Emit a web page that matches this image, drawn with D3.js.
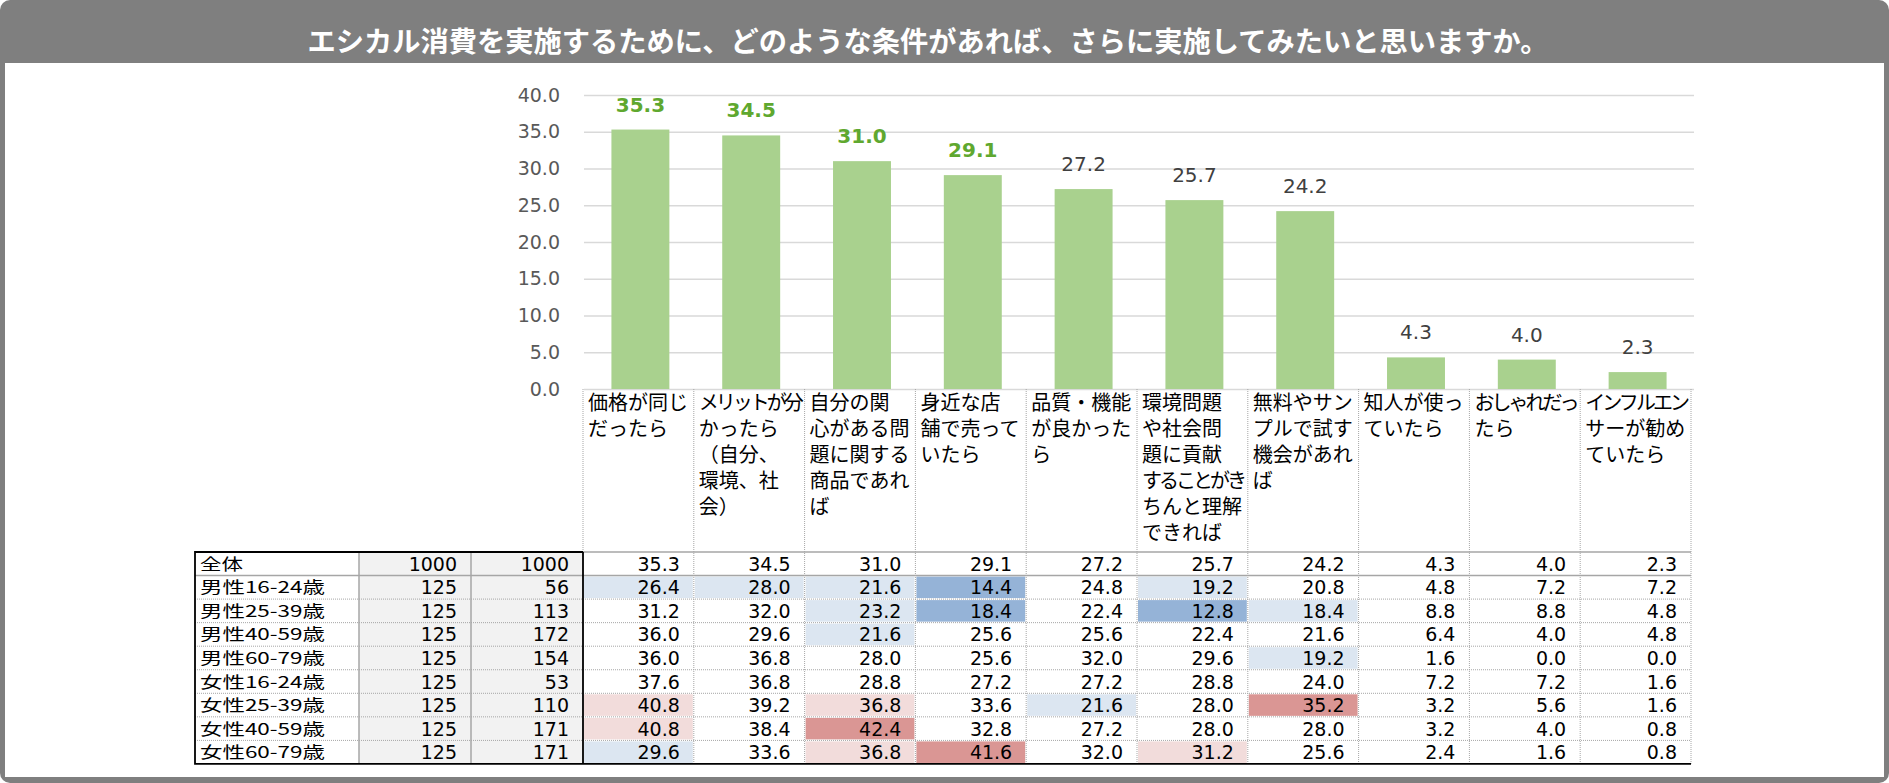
<!DOCTYPE html>
<html lang="ja">
<head>
  <meta charset="UTF-8">
  <title>エシカル消費 条件</title>
  <script src="https://d3js.org/d3.v7.min.js"></script>
  <style>
    body { margin: 0; background: #fff; }
    svg { display: block; }
    .jp { font-family: "Noto Sans CJK JP", sans-serif; }
    .num { font-family: "DejaVu Sans", Verdana, sans-serif; }
  </style>
</head>
<body>
  <svg id="chart" width="1889" height="783"></svg>

  <script>
    const title = "エシカル消費を実施するために、どのような条件があれば、さらに実施してみたいと思いますか。";

    // header text of each answer, already broken into lines like the original sheet
    const categories = [
      ["価格が同じ", "だったら"],
      ["メリットが分", "かったら", "（自分、", "環境、社", "会）"],
      ["自分の関", "心がある問", "題に関する", "商品であれ", "ば"],
      ["身近な店", "舗で売って", "いたら"],
      ["品質・機能", "が良かった", "ら"],
      ["環境問題", "や社会問", "題に貢献", "することがき", "ちんと理解", "できれば"],
      ["無料やサン", "プルで試す", "機会があれ", "ば"],
      ["知人が使っ", "ていたら"],
      ["おしゃれだっ", "たら"],
      ["インフルエン", "サーが勧め", "ていたら"]
    ];

    const overall = [35.3, 34.5, 31.0, 29.1, 27.2, 25.7, 24.2, 4.3, 4.0, 2.3];
    const topHighlight = 4;   // first N labels shown in bold green

    const yTicks = [0, 5, 10, 15, 20, 25, 30, 35, 40];

    const rowLabels = ["全体", "男性16-24歳", "男性25-39歳", "男性40-59歳", "男性60-79歳",
                       "女性16-24歳", "女性25-39歳", "女性40-59歳", "女性60-79歳"];
    const nPlanned = [1000, 125, 125, 125, 125, 125, 125, 125, 125];
    const nActual  = [1000, 56, 113, 172, 154, 53, 110, 171, 171];

    const segments = [
      overall,
      [26.4, 28.0, 21.6, 14.4, 24.8, 19.2, 20.8, 4.8, 7.2, 7.2],
      [31.2, 32.0, 23.2, 18.4, 22.4, 12.8, 18.4, 8.8, 8.8, 4.8],
      [36.0, 29.6, 21.6, 25.6, 25.6, 22.4, 21.6, 6.4, 4.0, 4.8],
      [36.0, 36.8, 28.0, 25.6, 32.0, 29.6, 19.2, 1.6, 0.0, 0.0],
      [37.6, 36.8, 28.8, 27.2, 27.2, 28.8, 24.0, 7.2, 7.2, 1.6],
      [40.8, 39.2, 36.8, 33.6, 21.6, 28.0, 35.2, 3.2, 5.6, 1.6],
      [40.8, 38.4, 42.4, 32.8, 27.2, 28.0, 28.0, 3.2, 4.0, 0.8],
      [29.6, 33.6, 36.8, 41.6, 32.0, 31.2, 25.6, 2.4, 1.6, 0.8]
    ];

    // cell shading: difference from 全体, +-5 light, +-10 strong
    function cellColor(v, base) {
      const diff = Math.round((v - base) * 10) / 10;
      if (diff >= 10) return "#da9694";
      if (diff >= 5) return "#f2dcdb";
      if (diff <= -10) return "#95b3d7";
      if (diff <= -5) return "#dce6f1";
      return null;
    }

    const svg = d3.select("#chart");
    const W = 1889, H = 783;

    // frame
    svg.append("rect").attr("width", W).attr("height", H).attr("rx", 10).attr("fill", "#7f7f7f");
    svg.append("rect").attr("x", 5).attr("y", 63).attr("width", W - 10).attr("height", 714).attr("fill", "#fff");

    svg.append("text")
      .attr("class", "jp")
      .attr("x", 928).attr("y", 40)
      .attr("text-anchor", "middle")
      .attr("dominant-baseline", "central")
      .attr("fill", "#fff")
      .attr("textLength", 1241)
      .attr("lengthAdjust", "spacingAndGlyphs")
      .style("font-size", "28px")
      .style("font-weight", "bold")
      .text(title);

    // scales
    const colLeft = 583, colRight = 1691;
    const col = d3.scaleBand().domain(d3.range(categories.length)).range([colLeft, colRight]);
    const xBar = d3.scaleBand().domain(d3.range(categories.length))
      .range([colLeft + 2, colRight + 2]).paddingInner(0.477).paddingOuter(0.2385);
    const y = d3.scaleLinear().domain([0, 40]).range([389, 95]);

    // grid + y labels
    const yAxis = d3.axisLeft(y).tickValues(yTicks).tickFormat(d3.format(".1f"))
      .tickSize(-(colRight + 2 - colLeft)).tickPadding(24);
    const ga = svg.append("g").attr("transform", `translate(${colLeft + 1},0)`).call(yAxis);
    ga.select(".domain").remove();
    ga.selectAll(".tick line").attr("stroke", "#d9d9d9").attr("stroke-width", 1.6);
    ga.selectAll(".tick text")
      .attr("class", "num")
      .attr("fill", "#595959")
      .style("font-size", "19px");

    // bars
    svg.append("g").selectAll("rect")
      .data(overall)
      .join("rect")
      .attr("x", (d, i) => xBar(i))
      .attr("y", d => y(d))
      .attr("width", xBar.bandwidth())
      .attr("height", d => y(0) - y(d))
      .attr("fill", "#a9d18e");

    svg.append("g").selectAll("text")
      .data(overall)
      .join("text")
      .attr("class", "num")
      .attr("x", (d, i) => xBar(i) + xBar.bandwidth() / 2)
      .attr("y", d => y(d) - 18)
      .attr("text-anchor", "middle")
      .attr("fill", (d, i) => i < topHighlight ? "#5fa82f" : "#404040")
      .style("font-weight", (d, i) => i < topHighlight ? "bold" : "normal")
      .style("font-size", "20px")
      .text(d => d.toFixed(1));

    // header cells under the bars
    const headTop = y(0), tableTop = 552, rowH = 23.55;
    const tableBottom = tableTop + rowH * rowLabels.length;

    const head = svg.append("g");
    categories.forEach((lines, i) => {
      const t = head.append("text")
        .attr("class", "jp")
        .attr("fill", "#000")
        .style("font-size", "20px");
      lines.forEach((ln, k) => {
        t.append("tspan")
          .attr("x", col(i) + 5)
          .attr("y", headTop + 21 + k * 26)
          .text(ln);
      });
      // long lines are set tighter so they stay inside their cell
      t.selectAll("tspan").each(function () {
        const w = this.getComputedTextLength();
        const n = this.textContent.length;
        if (w > 102) d3.select(this).style("letter-spacing", ((102 - w) / n).toFixed(2) + "px");
      });
    });

    // table columns on the left
    const labelX0 = 195, n1X0 = 359, n2X0 = 471;
    const tbl = svg.append("g");

    tbl.append("rect").attr("x", n1X0).attr("y", tableTop)
      .attr("width", colLeft - n1X0).attr("height", tableBottom - tableTop).attr("fill", "#f2f2f2");

    segments.forEach((row, r) => {
      row.forEach((v, j) => {
        const c = r === 0 ? null : cellColor(v, overall[j]);
        if (c) {
          tbl.append("rect")
            .attr("x", col(j) + 1).attr("y", tableTop + r * rowH + 1)
            .attr("width", col.bandwidth() - 2).attr("height", rowH - 2)
            .attr("fill", c);
        }
      });
    });

    // grid lines
    const dotted = "#a6a6a6";
    for (let r = 1; r < rowLabels.length; r++) {
      const yy = tableTop + r * rowH;
      tbl.append("line")
        .attr("x1", labelX0).attr("x2", colRight).attr("y1", yy).attr("y2", yy)
        .attr("stroke", dotted)
        .attr("stroke-width", r === 1 ? 1.5 : 1)
        .attr("stroke-dasharray", r === 1 ? null : "1,1");
    }
    d3.range(1, categories.length + 1).forEach(i => {
      const xx = i === categories.length ? colRight : col(i);
      tbl.append("line")
        .attr("x1", xx).attr("x2", xx).attr("y1", headTop).attr("y2", tableBottom)
        .attr("stroke", dotted).attr("stroke-dasharray", "1,1");
    });
    tbl.append("line").attr("x1", colLeft).attr("x2", colLeft).attr("y1", headTop).attr("y2", tableTop)
      .attr("stroke", dotted).attr("stroke-dasharray", "1,1");
    [n1X0, n2X0].forEach(xx => {
      tbl.append("line").attr("x1", xx).attr("x2", xx).attr("y1", tableTop).attr("y2", tableBottom)
        .attr("stroke", "#a6a6a6").attr("stroke-width", 1.5);
    });
    tbl.append("line").attr("x1", colLeft).attr("x2", colRight).attr("y1", tableTop).attr("y2", tableTop)
      .attr("stroke", "#a6a6a6").attr("stroke-width", 1.5);
    // black frame
    tbl.append("path")
      .attr("d", `M${colLeft},${tableTop}H${labelX0}V${tableBottom}H${colRight}M${colLeft},${tableTop}V${tableBottom}`)
      .attr("fill", "none").attr("stroke", "#000").attr("stroke-width", 1.8);

    // texts
    const midY = r => tableTop + r * rowH + rowH / 2 + 6;
    // row labels: small font so the line boxes fit the row, widened to the sheet's look
    const labelWidth = s => Array.from(s).reduce((w, ch) => w + (ch.charCodeAt(0) > 255 ? 21.5 : 12.1), 0);
    rowLabels.forEach((lab, r) => {
      tbl.append("text").attr("class", "jp")
        .attr("x", 200).attr("y", midY(r))
        .attr("textLength", labelWidth(lab))
        .attr("lengthAdjust", "spacingAndGlyphs")
        .style("font-size", "16.2px").attr("fill", "#000").text(lab);
      tbl.append("text").attr("class", "num")
        .attr("x", n2X0 - 14).attr("y", midY(r) + 1).attr("text-anchor", "end")
        .style("font-size", "19px").attr("fill", "#000").text(nPlanned[r]);
      tbl.append("text").attr("class", "num")
        .attr("x", colLeft - 14).attr("y", midY(r) + 1).attr("text-anchor", "end")
        .style("font-size", "19px").attr("fill", "#000").text(nActual[r]);
      segments[r].forEach((v, j) => {
        tbl.append("text").attr("class", "num")
          .attr("x", col(j) + col.bandwidth() - 14).attr("y", midY(r) + 1).attr("text-anchor", "end")
          .style("font-size", "19px").attr("fill", "#000").text(v.toFixed(1));
      });
    });
  </script>
</body>
</html>
